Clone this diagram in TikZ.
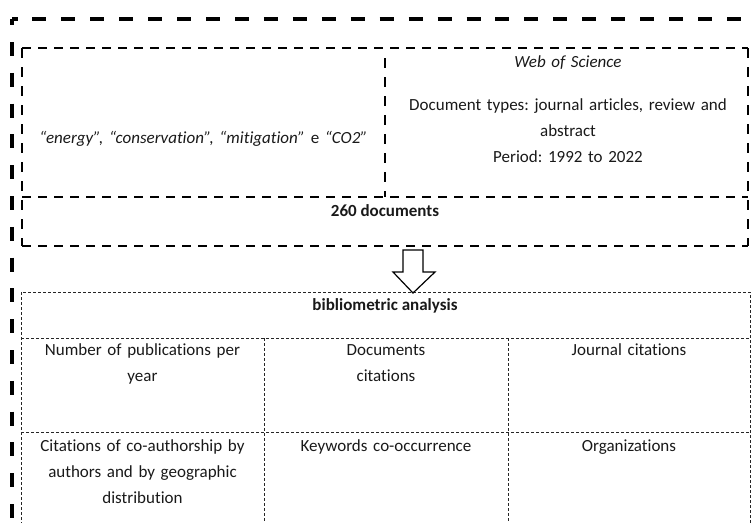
\documentclass[tikz,border=0pt]{standalone}
\usepackage{fontspec}
\setmainfont{Carlito}[Ligatures=NoCommon]
\frenchspacing
\begin{document}
\begin{tikzpicture}[x=1pt,y=-1pt,
  outerh/.style={line width=3.8pt, dash pattern=on 14pt off 14.94pt, dash phase=8.5pt},
  outerv/.style={line width=3.8pt, dash pattern=on 14pt off 16.8pt, dash phase=7.8pt},
  innerh/.style={line width=2pt, dash pattern=on 9pt off 7pt},
  innerv/.style={line width=2pt, dash pattern=on 10pt off 9pt},
  gridline/.style={line width=0.9pt, dash pattern=on 3pt off 2pt, black!85},
  txt/.style={inner sep=0pt, anchor=base, align=center, text=black!90,
    font=\fontsize{17}{25.8}\selectfont},
  blockarrow/.style={line width=1.2pt, fill=white, line join=miter}
]
\useasboundingbox (0,0) rectangle (751,522);
\clip (0,0) rectangle (751,522);

% outer thick dashed frame
\coordinate (oc) at (12,19);
\coordinate (otr) at (770,19);
\coordinate (obl) at (12,540);
\draw[outerh] (oc) -- (otr);
\draw[outerv] (oc) -- (obl);

% inner search box
\coordinate (i1) at (22,48);
\coordinate (i2) at (748,48);
\coordinate (i3) at (748,246);
\coordinate (i4) at (22,246);
\coordinate (m1) at (22,197);
\coordinate (m2) at (748,197);
\coordinate (v1) at (385,58);
\coordinate (v2) at (385,197);
\draw[innerh] (i1) -- (i2);
\draw[innerh] (m1) -- (m2);
\draw[innerh] (i4) -- (i3);
\draw[innerv] (i1) -- (i4);
\draw[innerv] (i2) -- (i3);
\draw[innerv] (v1) -- (v2);

% table
\coordinate (t1) at (21,292);
\coordinate (t2) at (750,292);
\coordinate (t3) at (750,540);
\coordinate (t4) at (21,540);
\coordinate (h1) at (21,338);
\coordinate (h2) at (750,338);
\coordinate (r1) at (21,432);
\coordinate (r2) at (750,432);
\coordinate (c1a) at (264,338);
\coordinate (c1b) at (264,540);
\coordinate (c2a) at (508,338);
\coordinate (c2b) at (508,540);
\draw[gridline] (t4) -- (t1) -- (t2) -- (t3);
\draw[gridline] (h1) -- (h2);
\draw[gridline] (r1) -- (r2);
\draw[gridline] (c1a) -- (c1b);
\draw[gridline] (c2a) -- (c2b);

% block arrow
\coordinate (tip) at (413,293);
\draw[blockarrow] (tip) -- ++(-20,-21) -- ++(10,0) -- ++(0,-22) -- ++(20,0)
  -- ++(0,22) -- ++(12,0) -- cycle;

% texts
\node[txt, text width=350pt] (kw) at (203.5,143.5)
  {\textit{“energy”, “conservation”, “mitigation”} e \textit{“CO2”}};
\node[txt, text width=355pt] (wos) at (568,67.5)
  {\textit{Web of Science}\\[17.2pt]
   Document types: journal articles, review and\\
   abstract\\
   Period: 1992 to 2022};
\node[txt] (docs) at (385,216.5) {\textbf{260 documents}};
\node[txt] (biblio) at (385,310.5) {\textbf{bibliometric analysis}};

\node[txt, text width=235pt] (npub) at (142.5,355.5) {Number of publications per\\year};
\node[txt, text width=235pt] (dcit) at (386,355.5) {Documents\\citations};
\node[txt, text width=235pt] (jcit) at (629,355.5) {Journal citations};
\node[txt, text width=235pt] (coauth) at (142.5,451.5)
  {Citations of co-authorship by\\authors and by geographic\\distribution};
\node[txt, text width=235pt] (kwco) at (386,451.5) {Keywords co-occurrence};
\node[txt, text width=235pt] (org) at (629,451.5) {Organizations};
\end{tikzpicture}
\end{document}
